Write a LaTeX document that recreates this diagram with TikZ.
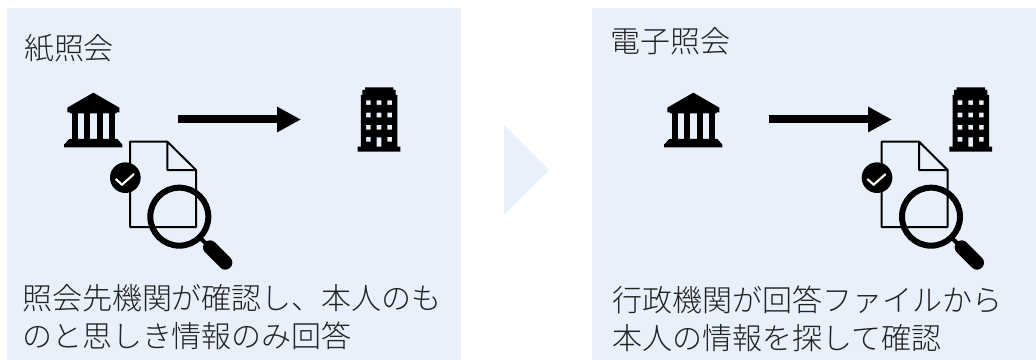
\documentclass[tikz,border=0pt]{standalone}
\usepackage{fontspec}
\setmainfont{Noto Sans CJK JP Light}
\usetikzlibrary{arrows.meta}
\definecolor{panel}{HTML}{E8F0FB}
\definecolor{ink}{HTML}{222222}
\tikzset{
  every node/.style={inner sep=0pt,outer sep=0pt},
  panelbox/.style={fill=panel,draw=none},
  label/.style={text=ink,font=\fontsize{22.5pt}{28.5pt}\selectfont,anchor=north west,align=left},
  bankicon/.pic={
    \begin{scope}[x=0.25pt,y=-0.25pt]
      \fill (160,38) -- (238,83) -- (238,97) -- (230,97) -- (230,100) -- (90,100) -- (90,97) -- (82,97) -- (82,83) -- cycle;
      \fill (95,97) rectangle (113,180);
      \fill (132,97) rectangle (150,180);
      \fill (170,97) rectangle (188,180);
      \fill (207,97) rectangle (225,180);
      \fill (88,177) -- (232,177) -- (247,194) -- (247,202) -- (72,202) -- (72,194) -- cycle;
    \end{scope}
  },
  buildicon/.pic={
    \begin{scope}[x=0.25pt,y=-0.25pt]
      \fill[even odd rule] (950,22) -- (1035,22) -- (1035,30) -- (1042,30) -- (1042,45) -- (1047,45) -- (1047,200) -- (1056,200) -- (1056,215) -- (928,215) -- (928,200) -- (938,200) -- (938,45) -- (942,45) -- (942,30) -- (950,30) -- cycle
      (953,61) rectangle (967,75) (985,61) rectangle (999,75) (1017,61) rectangle (1031,75)
      (953,98) rectangle (967,112) (985,98) rectangle (999,112) (1017,98) rectangle (1031,112)
      (953,135) rectangle (967,149) (985,135) rectangle (999,149) (1017,135) rectangle (1031,149)
      (953,171) rectangle (967,185) (985,172) rectangle (999,200) (1017,171) rectangle (1031,185);
    \end{scope}
  },
  docicon/.pic={
    \begin{scope}[x=0.25pt,y=-0.25pt]
      \draw[line width=1.5pt,line join=round] (382,185) -- (270,185) -- (270,441) -- (468,441) -- (468,270) -- (382,185) -- (382,270) -- (468,270);
      \fill (256,293) circle[radius=46];
      \draw[white,line width=1.6pt] (227,297) -- (246,314) -- (282,282);
      \draw[line width=4.5pt] (418,410) circle[radius=87];
      \draw[line width=3pt] (478,472) -- (505,497);
      \draw[line width=10.5pt,line cap=round] (510,502) -- (556,548);
    \end{scope}
  },
  bigarrow/.style={line width=6pt,-{Triangle[length=18pt,width=18pt]}}
}
\begin{document}
\begin{tikzpicture}[x=0.75pt,y=-0.75pt]
\useasboundingbox (0,0) rectangle (1036,360);
\fill[white] (0,0) rectangle (1036,360);
\node[panelbox,minimum width=340.5pt,minimum height=264pt,anchor=north west] (left) at (7,8) {};
\node[panelbox,minimum width=333pt,minimum height=264pt,anchor=north west] (right) at (592,8) {};
\fill[panel] (504,125) -- (549,170) -- (504,215) -- cycle;
\pic at (40,80) {bankicon};
\pic at (640,80) {bankicon};
\pic at (48.33,80) {buildicon};
\pic at (640,80) {buildicon};
\pic at (40,80) {docicon};
\pic at (791.67,80) {docicon};
\coordinate (a1s) at (178,119.5);
\coordinate (a1e) at (301,119.5);
\coordinate (a2s) at (769,119.5);
\coordinate (a2e) at (892,119.5);
\draw[bigarrow] (a1s) -- (a1e);
\draw[bigarrow] (a2s) -- (a2e);
\node[label] (t1) at (24,34) {紙照会};
\node[label] (t2) at (610,27) {電子照会};
\node[label] (t3) at (22,284) {照会先機関が確認し、本人のも\\のと思しき情報のみ回答};
\node[label] (t4) at (612,286) {行政機関が回答ファイルから\\本人の情報を探して確認};
\end{tikzpicture}
\end{document}
